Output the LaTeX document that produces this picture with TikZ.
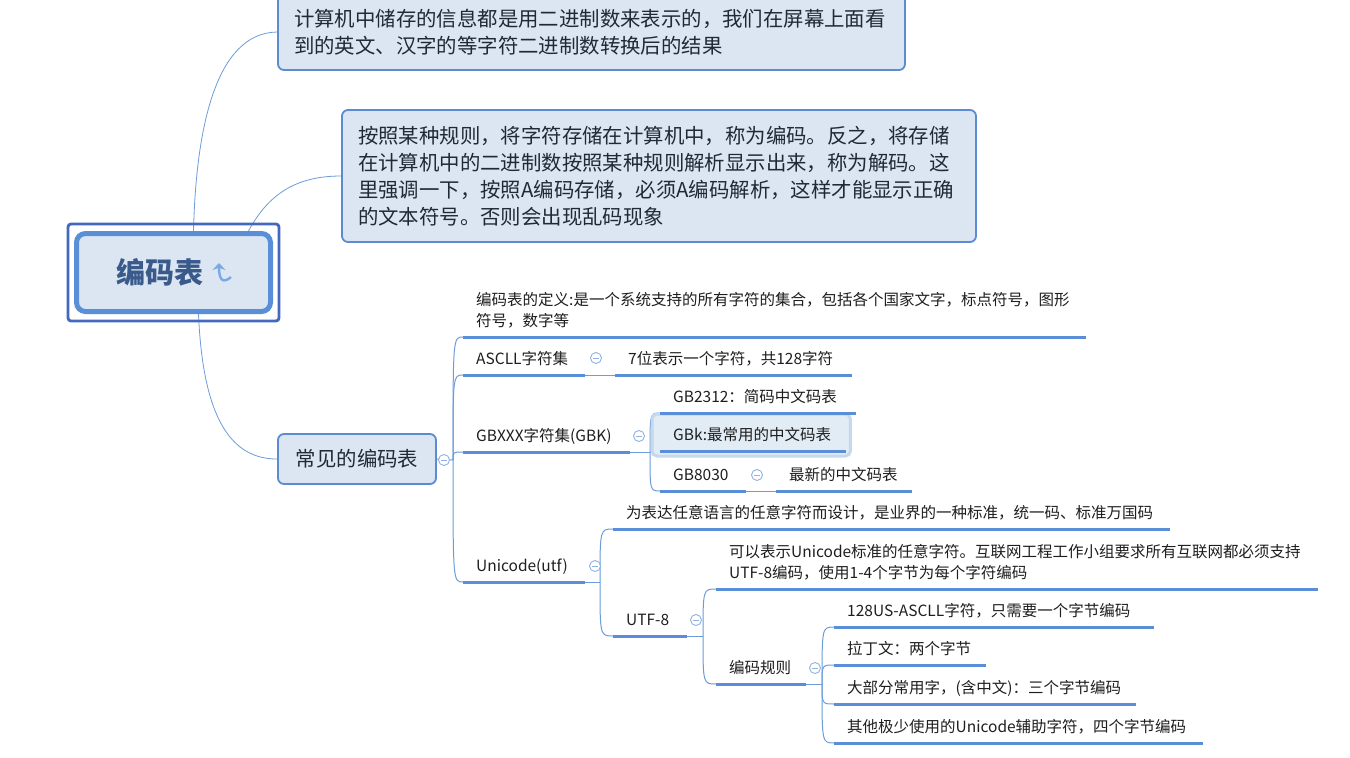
\documentclass[tikz,border=0pt]{standalone}
\usepackage{fontspec}
\setmainfont{Noto Sans CJK SC}
\usetikzlibrary{arrows.meta, backgrounds}
\definecolor{boxfill}{HTML}{DCE6F2}
\definecolor{boxdraw}{HTML}{5B8BD2}
\definecolor{rootframe}{HTML}{4468BE}
\definecolor{rootborder}{HTML}{5A8FD8}
\definecolor{ulinec}{HTML}{5A8ED8}
\definecolor{linkc}{HTML}{6D9CDA}
\definecolor{foldc}{HTML}{8FB2E2}
\definecolor{roottxt}{HTML}{3A5A8C}
\definecolor{txt}{HTML}{1E1E1E}
\definecolor{boxtxt}{HTML}{1F2A36}
\definecolor{selfill}{HTML}{E2ECF5}
\definecolor{seldraw}{HTML}{C6D8EB}
\definecolor{iconc}{HTML}{7AA8E6}
\newcommand\topicfont{\fontsize{15.5pt}{21.5pt}\selectfont}
\newcommand\boxfont{\fontsize{20.4pt}{27pt}\selectfont}
\newcommand\rootfont{\fontsize{29pt}{32pt}\selectfont\bfseries}

\begin{document}
\begin{tikzpicture}[x=1pt, y=-1pt,
    rootbox/.style={draw=rootborder, fill=boxfill, line width=5pt, rounded corners=9pt,
      minimum width=194pt, minimum height=78pt, font=\rootfont, text=roottxt},
    box/.style={draw=boxdraw, fill=boxfill, line width=1.8pt, rounded corners=6pt,
      align=left, font=\boxfont, text=boxtxt, inner xsep=16pt},
    topic/.style={anchor=south west, align=left, inner xsep=13pt, inner ysep=6pt,
      text depth=4pt, font=\topicfont, text=txt,
      append after command={\pgfextra{\let\ulnode\tikzlastnode}
        (\ulnode.south west) edge[uline] (\ulnode.south east)}},
    twolines/.style={text depth=25.5pt},
    uline/.style={draw=ulinec, line width=3pt},
    link/.style={draw=linkc, line width=1pt},
    rootlink/.style={draw=linkc, line width=0.8pt},
    fold/.style={circle, draw=foldc, fill=white, line width=0.9pt, minimum size=11pt,
      inner sep=0pt, path picture={\draw[foldc, line width=0.9pt]
        ([xshift=-3pt]path picture bounding box.center) --
        ([xshift=3pt]path picture bounding box.center);}},
    selbox/.style={draw=seldraw, fill=selfill, line width=3pt, rounded corners=5pt}]
\path[use as bounding box] (0,0) rectangle (1350,758);

% central topic
\node[rootbox] (root) at (173.5,272.5) {编码表\kern27pt};
\draw[rootframe, line width=2.8pt, rounded corners=3pt]
  ([shift={(-6,7)}]root.south west) rectangle ([shift={(6,-7)}]root.north east);
\draw[iconc, line width=2.4pt, -{Stealth[length=7pt, width=13pt]}]
  (231,277) .. controls (223,284) and (219,280) .. (219,263);

% boxes
\node[box, text width=595pt, minimum height=76pt] (info) at (591.5,32)
  {计算机中储存的信息都是用二进制数来表示的，我们在屏幕上面看\\到的英文、汉字的等字符二进制数转换后的结果};
\node[box, text width=602pt, minimum height=132pt] (codec) at (659,176)
  {按照某种规则，将字符存储在计算机中，称为编码。反之，将存储\\在计算机中的二进制数按照某种规则解析显示出来，称为解码。这\\里强调一下，按照A编码存储，必须A编码解析，这样才能显示正确\\的文本符号。否则会出现乱码现象};
\node[box, align=center, minimum width=158pt, minimum height=50pt] (common) at (357,459) {常见的编码表};

% subtopics
\node[topic, twolines, text width=597pt] (def) at (463,337) {编码表的定义:是一个系统支持的所有字符的集合，包括各个国家文字，标点符号，图形\\符号，数字等};
\node[topic, text width=96pt] (ascll) at (463,375) {ASCLL字符集};
\node[topic, text width=211pt] (asclld) at (615,375) {7位表示一个字符，共128字符};
\node[topic, text width=141pt] (gbx) at (463,452) {GBXXX字符集(GBK)};
\node[topic, text width=170pt] (gb2312) at (660,413) {GB2312：简码中文码表};
\node[topic, text width=160pt] (gbk) at (660,451) {GBk:最常用的中文码表};
\node[topic, text width=60pt] (gb8030) at (660,491) {GB8030};
\node[topic, text width=110pt] (gb8030d) at (776,491) {最新的中文码表};
\node[topic, text width=96pt] (uni) at (463,582) {Unicode(utf)};
\node[topic, text width=531pt] (unid) at (613,529) {为表达任意语言的任意字符而设计，是业界的一种标准，统一码、标准万国码};
\node[topic, text width=48pt] (utf) at (613,636) {UTF-8};
\node[topic, twolines, text width=576pt] (utfd) at (716,589) {可以表示Unicode标准的任意字符。互联网工程工作小组要求所有互联网都必须支持\\UTF-8编码，使用1-4个字节为每个字符编码};
\node[topic, text width=64pt] (rules) at (716,684) {编码规则};
\node[topic, text width=294pt] (r1) at (834,627) {128US-ASCLL字符，只需要一个字节编码};
\node[topic, text width=126pt] (r2) at (834,665) {拉丁文：两个字节};
\node[topic, text width=276pt] (r3) at (834,704) {大部分常用字，(含中文)：三个字节编码};
\node[topic, text width=343pt] (r4) at (834,743) {其他极少使用的Unicode辅助字符，四个字节编码};

% branch points
\coordinate (jcom) at (453,460);
\coordinate (jgb) at (650,452);
\coordinate (juni) at (600,582);
\coordinate (jutf) at (703,636);
\coordinate (jrules) at (822,684);

% fold buttons
\node[fold] (fcom) at (444,460) {};
\node[fold] (fascll) at (596,358) {};
\node[fold] (fgb) at (639,436) {};
\node[fold] (fgb8030) at (757,475) {};
\node[fold] (funi) at (595,566) {};
\node[fold] (futf) at (696,620) {};
\node[fold] (frules) at (815,668) {};

\begin{scope}[on background layer]
\fill[white] (0,0) rectangle (1350,758);
\draw[rootlink] ([xshift=20pt]root.north) .. controls (196,130) and (215,33) .. (info.west);
\draw[rootlink] ([xshift=75pt]root.north) .. controls (268,195) and (295,176) .. (codec.west);
\draw[rootlink] ([xshift=25pt]root.south) .. controls (203,420) and (232,459) .. (common.west);
\draw[link] (common.east) -- (jcom);
\draw[link] (jcom) .. controls (jcom |- def.south west) .. (def.south west);
\draw[link] (jcom) .. controls (jcom |- ascll.south west) .. (ascll.south west);
\draw[link] (jcom) .. controls (jcom |- gbx.south west) .. (gbx.south west);
\draw[link] (jcom) .. controls (jcom |- uni.south west) .. (uni.south west);
\draw[link] (ascll.south east) -- (asclld.south west);
\draw[link] (gbx.south east) -- (jgb);
\draw[link] (jgb) .. controls (jgb |- gb2312.south west) .. (gb2312.south west);
\draw[link] (jgb) -- (gbk.south west);
\draw[link] (jgb) .. controls (jgb |- gb8030.south west) .. (gb8030.south west);
\draw[link] (gb8030.south east) -- (gb8030d.south west);
\draw[link] (uni.south east) -- (juni);
\draw[link] (juni) .. controls (juni |- unid.south west) .. (unid.south west);
\draw[link] (juni) .. controls (juni |- utf.south west) .. (utf.south west);
\draw[link] (utf.south east) -- (jutf);
\draw[link] (jutf) .. controls (jutf |- utfd.south west) .. (utfd.south west);
\draw[link] (jutf) .. controls (jutf |- rules.south west) .. (rules.south west);
\draw[link] (rules.south east) -- (jrules);
\draw[link] (jrules) .. controls (jrules |- r1.south west) .. (r1.south west);
\draw[link] (jrules) .. controls (jrules |- r2.south west) .. (r2.south west);
\draw[link] (jrules) .. controls (jrules |- r3.south west) .. (r3.south west);
\draw[link] (jrules) .. controls (jrules |- r4.south west) .. (r4.south west);
\draw[selbox] ([shift={(-8,5)}]gbk.south west) rectangle ([shift={(4,-37)}]gbk.south east);
\end{scope}
\end{tikzpicture}
\end{document}
